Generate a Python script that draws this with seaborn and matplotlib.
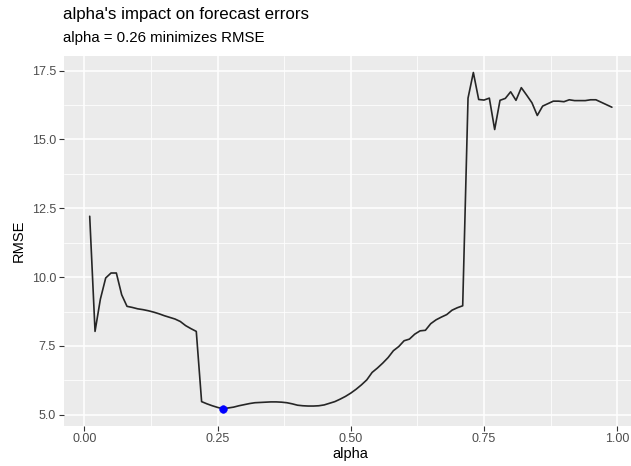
import numpy as np
import pandas as pd
import matplotlib
matplotlib.use('Agg')
import matplotlib.pyplot as plt
from matplotlib.ticker import MultipleLocator
import seaborn as sns

alpha = [round(0.01 * i, 2) for i in range(1, 100)]
rmse = [12.21, 8.03, 9.20, 9.97, 10.15, 10.15, 9.36, 8.94, 8.90, 8.85,
        8.82, 8.78, 8.73, 8.67, 8.60, 8.54, 8.48, 8.39, 8.24, 8.13,
        8.03, 5.48, 5.40, 5.33, 5.27, 5.22, 5.25, 5.28, 5.33, 5.37,
        5.41, 5.44, 5.45, 5.46, 5.47, 5.47, 5.46, 5.44, 5.40, 5.35,
        5.33, 5.32, 5.32, 5.33, 5.36, 5.42, 5.48, 5.57, 5.67, 5.79,
        5.93, 6.09, 6.27, 6.54, 6.70, 6.88, 7.08, 7.33, 7.48, 7.69,
        7.75, 7.93, 8.05, 8.07, 8.31, 8.45, 8.55, 8.64, 8.80, 8.89,
        8.96, 16.50, 17.43, 16.45, 16.43, 16.50, 15.36, 16.42, 16.49, 16.73,
        16.42, 16.88, 16.61, 16.33, 15.87, 16.21, 16.30, 16.39, 16.39, 16.37,
        16.44, 16.41, 16.41, 16.41, 16.44, 16.44, 16.35, 16.26, 16.17]

df = pd.DataFrame({"alpha": alpha, "RMSE": rmse})
best = df.loc[[df["RMSE"].idxmin()]]

sns.set_theme(style="darkgrid", rc={
    "axes.facecolor": "#EBEBEB",
    "grid.color": "white",
    "axes.edgecolor": "#EBEBEB",
    "xtick.bottom": True, "ytick.left": True,
    "xtick.color": "#333333", "ytick.color": "#333333",
    "xtick.major.size": 3.5, "ytick.major.size": 3.5,
    "xtick.major.width": 0.8, "ytick.major.width": 0.8,
    "xtick.major.pad": 2, "ytick.major.pad": 2,
})
plt.rcParams['font.family'] = ['Liberation Sans', 'DejaVu Sans']

fig = plt.figure(figsize=(6.31, 4.66), dpi=100)
ax = fig.add_axes([63.6/631, 40.4/466, 574.4/631, 369.9/466])

sns.lineplot(data=df, x="alpha", y="RMSE", color="#262626", linewidth=1.2, ax=ax)
sns.scatterplot(data=best, x="alpha", y="RMSE", color="blue", s=30, edgecolor="blue", ax=ax, zorder=5)

xr = df["alpha"].max() - df["alpha"].min()
yr = df["RMSE"].max() - df["RMSE"].min()
ax.set_xlim(df["alpha"].min() - 0.05 * xr, df["alpha"].max() + 0.05 * xr)
ax.set_ylim(df["RMSE"].min() - 0.05 * yr, df["RMSE"].max() + 0.05 * yr)

ax.xaxis.set_major_locator(MultipleLocator(0.25))
ax.xaxis.set_minor_locator(MultipleLocator(0.125))
ax.yaxis.set_major_locator(MultipleLocator(2.5))
ax.yaxis.set_minor_locator(MultipleLocator(1.25))
ax.set_xticks([0, 0.25, 0.5, 0.75, 1.0])
ax.set_xticklabels(["0.00", "0.25", "0.50", "0.75", "1.00"])
ax.set_yticks([5.0, 7.5, 10.0, 12.5, 15.0, 17.5])
ax.set_yticklabels(["5.0", "7.5", "10.0", "12.5", "15.0", "17.5"])
ax.grid(which="major", color="white", linewidth=1.1)
ax.grid(which="minor", color="white", linewidth=0.55)
ax.tick_params(which="minor", length=0)
ax.tick_params(axis="both", which="major", labelsize=9, labelcolor="#4D4D4D")
for s in ax.spines.values():
    s.set_visible(False)

ax.set_xlabel("alpha", fontsize=10.5, color="black", labelpad=1)
ax.set_ylabel("RMSE", fontsize=10.5, color="black", labelpad=4)

fig.text(63/631, 1 - 14/466, "alpha's impact on forecast errors", fontsize=12.2,
         ha="left", va="center", color="black")
fig.text(63/631, 1 - 38/466, "alpha = 0.26 minimizes RMSE", fontsize=10.8,
         ha="left", va="center", color="black")

fig.savefig("out.png", dpi=100)
